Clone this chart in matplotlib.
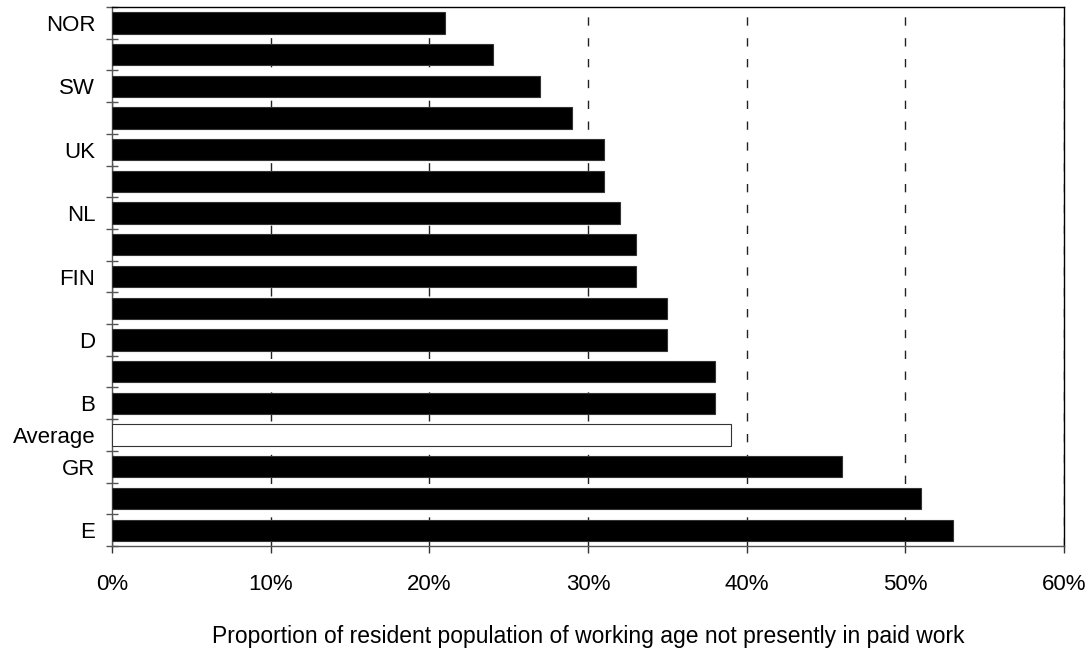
#!/usr/bin/env python3

# Share of working-age population not in paid work, by country
# Usage:
#   $ python3 plot.py

import matplotlib.pyplot as plt
import numpy as np

# Rows top to bottom; only every other country is named on the axis
countries = ['NOR', '', 'SW', '', 'UK', '', 'NL', '', 'FIN', '', 'D', '',
             'B', 'Average', 'GR', '', 'E']
# Percent not presently in paid work
not_working = [21, 24, 27, 29, 31, 31, 32, 33, 33, 35, 35, 38, 38, 39, 46,
               51, 53]

xticks = [0, 10, 20, 30, 40, 50, 60]


def main():

  plt.rcParams['font.family'] = ['Liberation Sans', 'DejaVu Sans']

  fig = plt.figure(figsize=(10.85, 6.51), dpi=100)
  ax = fig.add_axes([0.1032, 0.1613, 0.8774, 0.8279])

  ypos = np.arange(len(countries))
  # Average bar is hollow, the countries are solid black
  colors = ['white' if c == 'Average' else 'black' for c in countries]

  ax.barh(ypos, not_working, height=0.67, color=colors, edgecolor='#333333',
          linewidth=0.8, zorder=3)

  ax.set_xlim(0, 60)
  ax.set_ylim(len(countries) - 0.5, -0.5)

  # x axis: percent ticks with dashed gridlines behind the bars
  ax.set_xticks(xticks)
  ax.set_xticklabels(['%d%%' % v for v in xticks], fontsize=16)
  ax.tick_params(axis='x', direction='out', length=5, width=1,
                 color='#333333', pad=15)
  ax.grid(axis='x', color='#222222', linewidth=1, linestyle=(0, (6, 9)),
          zorder=0)

  # y axis: names centred on bars, tick marks between the bars
  ax.set_yticks(ypos)
  ax.set_yticklabels(countries, fontsize=16)
  ax.tick_params(axis='y', which='major', length=0, pad=12)
  ax.set_yticks(np.arange(len(countries) + 1) - 0.5, minor=True)
  ax.tick_params(axis='y', which='minor', direction='inout', length=8,
                 width=1, color='#555555')

  ax.set_xlabel('Proportion of resident population of working age not '
                'presently in paid work', fontsize=16.5, labelpad=22)

  for side in ['left', 'bottom']:
    ax.spines[side].set_color('#555555')
  for side in ['top', 'right']:
    ax.spines[side].set_color('black')
  for s in ax.spines.values():
    s.set_linewidth(1)

  fig.savefig('out.png', dpi=100)


if __name__ == '__main__':
  main()
